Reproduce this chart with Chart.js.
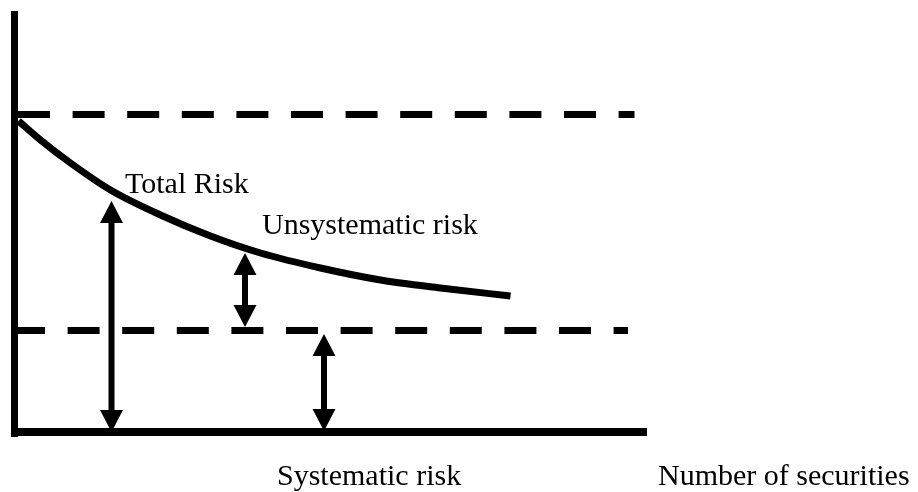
<!DOCTYPE html>
<html>
<head>
<meta charset="utf-8">
<script src="https://cdn.jsdelivr.net/npm/chart.js@4.4.0/dist/chart.umd.min.js"></script>
<style>
  html, body { margin: 0; padding: 0; background: #fff; }
  #chart { display: block; }
</style>
</head>
<body>
<canvas id="chart" width="918" height="492"></canvas>
<script>
// data units: origin at the axis corner, x = number of securities, y = risk
const axisXEnds = [-3.5, 632.5];
const axisYEnds = [-5, 421];

// dashed levels (total risk at start / systematic risk)
const topLevel = 317.5;
const lowLevel = 101.5;
const dashFrom = 3.5;
const topDashTo = 620;
const lowDashTo = 613.5;

// total risk curve
const curveX = [4, 26, 56, 96, 146, 196, 246, 306, 366, 426, 496];
const curveY = [311, 292, 269, 242, 217, 196, 179, 164, 152, 144, 136];

// double arrows
const arrowX = [97, 230.5, 309.5];
const arrowTop = [231, 179, 98];
const arrowBottom = [0, 105, 1];

// text
const labelText = ["Total Risk", "Unsystematic risk", "Systematic risk", "Number of securities"];
const labelX = [110.5, 247.5, 262.5, 643.5];
const labelY = [239, 198, -53, -53];

const black = "#000";

const lineSet = (points, width, extra) =>
  Object.assign(
    {
      data: points,
      showLine: true,
      borderColor: black,
      borderWidth: width,
      pointRadius: 0,
      fill: false,
      borderCapStyle: "butt",
    },
    extra || {}
  );

const datasets = [
  // 軸
  lineSet([{ x: 0, y: axisYEnds[0] }, { x: 0, y: axisYEnds[1] }], 7),
  lineSet([{ x: axisXEnds[0], y: 0 }, { x: axisXEnds[1], y: 0 }], 8),
  // 虛線
  lineSet([{ x: dashFrom, y: topLevel }, { x: topDashTo, y: topLevel }], 7, {
    borderDash: [32, 22.6],
  }),
  lineSet([{ x: dashFrom, y: lowLevel }, { x: lowDashTo, y: lowLevel }], 7, {
    borderDash: [32, 22.6],
    borderDashOffset: 5,
  }),
  // 曲線
  lineSet(
    curveX.map((x, i) => ({ x, y: curveY[i] })),
    7,
    { cubicInterpolationMode: "monotone" }
  ),
];

// 箭頭 (drawn by the plugin from the scaled points)
arrowX.forEach((x, i) => {
  datasets.push({
    data: [
      { x, y: arrowTop[i] },
      { x, y: arrowBottom[i] },
    ],
    showLine: false,
    pointRadius: 0,
    arrow: true,
  });
});

const arrowPlugin = {
  id: "arrows",
  afterDatasetsDraw(chart) {
    const ctx = chart.ctx;
    const head = 22;
    const half = 11.5;
    chart.data.datasets.forEach((ds, i) => {
      if (!ds.arrow) return;
      const [a, b] = chart.getDatasetMeta(i).data;
      ctx.save();
      ctx.fillStyle = black;
      ctx.fillRect(a.x - 3, a.y + head - 1, 6, b.y - a.y - 2 * head + 2);
      ctx.beginPath();
      ctx.moveTo(a.x, a.y);
      ctx.lineTo(a.x - half, a.y + head);
      ctx.lineTo(a.x + half, a.y + head);
      ctx.closePath();
      ctx.moveTo(b.x, b.y);
      ctx.lineTo(b.x - half, b.y - head);
      ctx.lineTo(b.x + half, b.y - head);
      ctx.closePath();
      ctx.fill();
      ctx.restore();
    });
  },
};

const labelPlugin = {
  id: "labels",
  afterDraw(chart) {
    const ctx = chart.ctx;
    const { x: xScale, y: yScale } = chart.scales;
    ctx.save();
    ctx.fillStyle = black;
    ctx.font = '30px "Liberation Serif", "Times New Roman", serif';
    ctx.textAlign = "left";
    ctx.textBaseline = "alphabetic";
    labelText.forEach((t, i) => {
      ctx.fillText(t, xScale.getPixelForValue(labelX[i]), yScale.getPixelForValue(labelY[i]));
    });
    ctx.restore();
  },
};

new Chart(document.getElementById("chart"), {
  type: "scatter",
  data: { datasets },
  options: {
    responsive: false,
    animation: false,
    layout: { padding: 0 },
    plugins: {
      legend: { display: false },
      tooltip: { enabled: false },
    },
    scales: {
      x: { type: "linear", display: false, min: -14.5, max: 903.5 },
      y: { type: "linear", display: false, min: -60, max: 432 },
    },
  },
  plugins: [arrowPlugin, labelPlugin],
});
</script>
</body>
</html>
